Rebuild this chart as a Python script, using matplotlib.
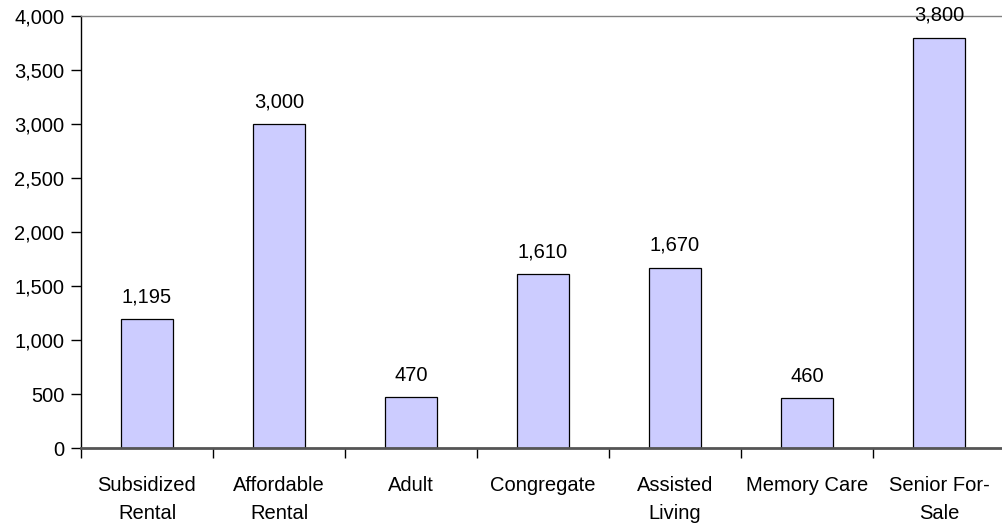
import matplotlib
matplotlib.use("Agg")
import matplotlib.pyplot as plt
from matplotlib.ticker import FuncFormatter

categories = ["Subsidized\nRental", "Affordable\nRental", "Adult", "Congregate",
              "Assisted\nLiving", "Memory Care", "Senior For-\nSale"]
values = [1195, 3000, 470, 1610, 1670, 460, 3800]
labels = ["1,195", "3,000", "470", "1,610", "1,670", "460", "3,800"]
yticks = [0, 500, 1000, 1500, 2000, 2500, 3000, 3500, 4000]

plt.rcParams['font.family'] = ['Liberation Sans', 'DejaVu Sans']
FS = 14.5

fig = plt.figure(figsize=(10.02, 5.27), dpi=100)
ax = fig.add_axes([81/1002, 1-448/527, 1005/1002 - 81/1002, (448-16)/527])

x = range(len(categories))
ax.bar(x, values, width=0.4, color="#CCCCFF", edgecolor="#000000", linewidth=0.9, zorder=3)
for xi, v, lab in zip(x, values, labels):
    ax.annotate(lab, (xi, v), xytext=(0, 16), textcoords="offset points",
                ha="center", va="center", fontsize=FS, color="#000000")

ax.set_xlim(-0.5, 6.5)
ax.set_ylim(0, 4000)
ax.set_yticks(yticks)
ax.yaxis.set_major_formatter(FuncFormatter(lambda v, p: f"{int(v):,}"))
ax.set_xticks([i - 0.5 for i in range(len(categories) + 1)])
ax.set_xticklabels([])
ax.set_xticks(list(x), minor=True)
ax.set_xticklabels(categories, minor=True, fontsize=FS, linespacing=1.6)
ax.tick_params(axis='x', which='minor', length=0, pad=20)
ax.tick_params(axis='x', which='major', length=7, width=1, color="#000000", direction='out')
ax.tick_params(axis='y', length=7, width=1, labelsize=FS, pad=5, direction='out')

ax.spines['right'].set_visible(False)
ax.spines['top'].set_color("#808080")
ax.spines['top'].set_linewidth(1.0)
ax.spines['left'].set_color("#000000")
ax.spines['left'].set_linewidth(1.0)
ax.spines['bottom'].set_color("#555555")
ax.spines['bottom'].set_linewidth(2.0)
ax.spines['bottom'].set_zorder(4)

fig.savefig("out.png", dpi=100)
